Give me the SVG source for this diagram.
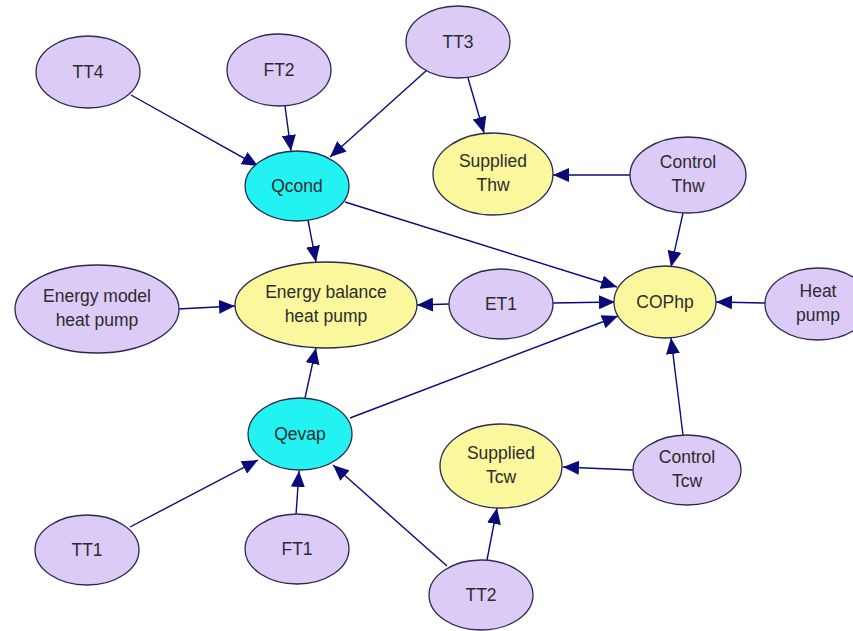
<svg xmlns="http://www.w3.org/2000/svg" width="853" height="631" viewBox="0 0 853 631">
<defs>
<marker id="ah" markerUnits="userSpaceOnUse" markerWidth="17" markerHeight="14" refX="16" refY="7" orient="auto">
<path d="M0,0 L16,7 L0,14 z" fill="#0a0a7a"/>
</marker>
<style>
.e{stroke:#2a2a50;stroke-width:1.3}
.p{fill:#dccaf7}
.c{fill:#22f2f2}
.y{fill:#fbf79c}
text{font-family:"Liberation Sans",Arial,sans-serif;font-size:17.5px;fill:#2c2c2c;text-anchor:middle}
#edges line{stroke:#0a0a7a;stroke-width:1.4;marker-end:url(#ah)}
</style>
</defs>
<rect width="853" height="631" fill="#fff"/>
<g id="edges">
<line x1="131" y1="95" x2="258" y2="166"/>
<line x1="285" y1="106" x2="291" y2="151"/>
<line x1="427" y1="70" x2="330" y2="157"/>
<line x1="468" y1="78" x2="484" y2="133"/>
<line x1="630" y1="175" x2="553" y2="175"/>
<line x1="308" y1="220" x2="316" y2="262"/>
<line x1="345" y1="202" x2="617" y2="287"/>
<line x1="683" y1="213" x2="671" y2="267"/>
<line x1="178" y1="309" x2="235" y2="306"/>
<line x1="449" y1="304" x2="417" y2="305"/>
<line x1="553" y1="303" x2="615" y2="302"/>
<line x1="765" y1="303" x2="716" y2="302"/>
<line x1="305" y1="398" x2="316" y2="348"/>
<line x1="350" y1="418" x2="618" y2="316"/>
<line x1="683" y1="435" x2="671" y2="338"/>
<line x1="130" y1="527" x2="258" y2="460"/>
<line x1="296" y1="515" x2="299" y2="471"/>
<line x1="447" y1="566" x2="333" y2="465"/>
<line x1="487" y1="560" x2="497" y2="508"/>
<line x1="633" y1="470" x2="563" y2="467"/>
</g>
<g id="TT4"><ellipse class="e p" cx="88" cy="72" rx="52" ry="36"/><text x="88" y="78">TT4</text></g>
<g id="FT2"><ellipse class="e p" cx="279" cy="70" rx="52" ry="36"/><text x="279" y="76">FT2</text></g>
<g id="TT3"><ellipse class="e p" cx="458" cy="42" rx="52" ry="36"/><text x="458" y="48">TT3</text></g>
<g id="Qcond"><ellipse class="e c" cx="297" cy="186" rx="52" ry="35"/><text x="297" y="192">Qcond</text></g>
<g id="SuppliedThw"><ellipse class="e y" cx="493" cy="174" rx="60" ry="41"/><text x="493" y="167">Supplied</text><text x="493" y="191">Thw</text></g>
<g id="ControlThw"><ellipse class="e p" cx="688" cy="175" rx="58" ry="38"/><text x="688" y="168">Control</text><text x="688" y="192">Thw</text></g>
<g id="EnergyModel"><ellipse class="e p" cx="97" cy="309" rx="82" ry="44"/><text x="97" y="302">Energy model</text><text x="97" y="326">heat pump</text></g>
<g id="EnergyBalance"><ellipse class="e y" cx="326" cy="305" rx="91" ry="43"/><text x="326" y="298">Energy balance</text><text x="326" y="322">heat pump</text></g>
<g id="ET1"><ellipse class="e p" cx="501" cy="304" rx="52" ry="35"/><text x="501" y="310">ET1</text></g>
<g id="COPhp"><ellipse class="e y" cx="665" cy="302" rx="51" ry="36"/><text x="665" y="308">COPhp</text></g>
<g id="HeatPump"><ellipse class="e p" cx="818" cy="304" rx="53" ry="36"/><text x="818" y="297">Heat</text><text x="818" y="321">pump</text></g>
<g id="Qevap"><ellipse class="e c" cx="300" cy="434" rx="52" ry="36"/><text x="300" y="440">Qevap</text></g>
<g id="SuppliedTcw"><ellipse class="e y" cx="501" cy="466" rx="61" ry="42"/><text x="501" y="459">Supplied</text><text x="501" y="483">Tcw</text></g>
<g id="ControlTcw"><ellipse class="e p" cx="687" cy="470" rx="54" ry="35"/><text x="687" y="463">Control</text><text x="687" y="487">Tcw</text></g>
<g id="TT1"><ellipse class="e p" cx="87" cy="550" rx="52" ry="35"/><text x="87" y="556">TT1</text></g>
<g id="FT1"><ellipse class="e p" cx="297" cy="549" rx="52" ry="35"/><text x="297" y="555">FT1</text></g>
<g id="TT2"><ellipse class="e p" cx="481" cy="595" rx="52" ry="35"/><text x="481" y="601">TT2</text></g>
</svg>
